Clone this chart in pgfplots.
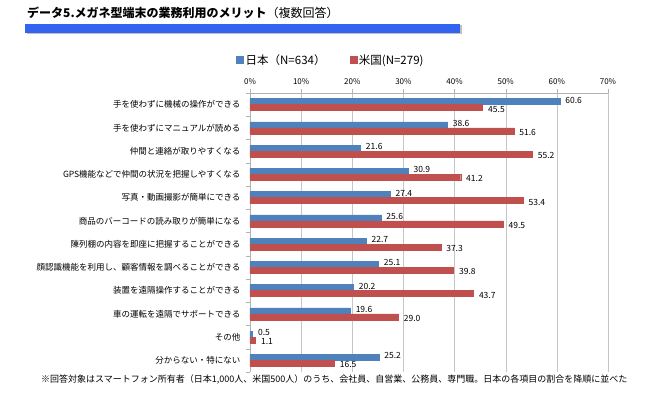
\documentclass[border=0pt]{standalone}
\usepackage{fontspec}
\setmainfont{Noto Sans CJK JP}
\usepackage{pgfplots}
\pgfplotsset{compat=1.18}
\definecolor{jp}{RGB}{79,129,189}
\definecolor{us}{RGB}{192,80,77}
\definecolor{titlebar}{RGB}{50,100,240}
\begin{document}
\begin{tikzpicture}[x=1pt,y=1pt]
\useasboundingbox (0,0) rectangle (665,397);
\coordinate (A) at (250,25);
\node[anchor=west,inner sep=0pt] at (27,384) {\fontsize{12}{14}\selectfont\bfseries データ5.メガネ型端末の業務利用のメリット\mdseries（複数回答）};
\fill[gray!50] (26.5,362.5) rectangle (461.5,371.5);
\fill[titlebar] (25,364) rectangle (460,373);
\begin{axis}[
  at={(A)}, anchor=south west,
  scale only axis, width=358pt, height=279pt,
  xbar, bar width=6pt,
  xmin=0, xmax=70, ymin=-0.5, ymax=11.5,
  y dir=reverse,
  axis x line*=top, axis y line*=left,
  axis line style={draw=gray!60},
  xtick={0,10,...,70},
  xticklabel={\pgfmathprintnumber{\tick}\%},
  xtick align=outside,
  major tick length=4pt,
  minor tick length=4pt,
  x tick style={draw=gray!60},
  xmajorgrids, grid style={draw=gray!45},
  ticklabel style={font=\fontsize{8}{10}\selectfont},
  xticklabel style={yshift=1pt},
  /pgf/number format/assume math mode=true,
  ytick={0,...,11},
  major y tick style={draw=none},
  minor ytick={-0.5,0.5,...,11.5},
  minor y tick style={draw=gray!60},
  ytick align=outside,
  yticklabels={手を使わずに機械の操作ができる,手を使わずにマニュアルが読める,仲間と連絡が取りやすくなる,GPS機能などで仲間の状況を把握しやすくなる,写真・動画撮影が簡単にできる,商品のバーコードの読み取りが簡単になる,陳列棚の内容を即座に把握することができる,顔認識機能を利用し、顧客情報を調べることができる,装置を遠隔操作することができる,車の運転を遠隔でサポートできる,その他,分からない・特にない},
  yticklabel style={font=\fontsize{8.5}{10}\selectfont, xshift=-2pt},
  nodes near coords,
  nodes near coords style={font=\fontsize{8.5}{10}\selectfont, /pgf/number format/fixed, /pgf/number format/fixed zerofill, /pgf/number format/precision=1, /pgf/number format/assume math mode=true},
  legend columns=2,
  legend style={at={(0.226,1.118)}, anchor=center, draw=none, fill=none,
    font=\fontsize{11.5}{13}\selectfont,
    /tikz/every even column/.append style={column sep=22pt}},
  legend image code/.code={\fill[#1] (2pt,-3.5pt) rectangle (9pt,3.5pt);},
]
\addplot[fill=jp, draw=jp, bar shift=3pt, nodes near coords style={anchor=west, yshift=1.5pt, xshift=2pt}] coordinates {
(60.6,0) (38.6,1) (21.6,2) (30.9,3) (27.4,4) (25.6,5) (22.7,6) (25.1,7) (20.2,8) (19.6,9) (0.5,10) (25.2,11)};
\addplot[fill=us, draw=us, bar shift=-3pt, nodes near coords style={anchor=west, yshift=-1.5pt, xshift=2pt}] coordinates {
(45.5,0) (51.6,1) (55.2,2) (41.2,3) (53.4,4) (49.5,5) (37.3,6) (39.8,7) (43.7,8) (29.0,9) (1.1,10) (16.5,11)};
\legend{日本（N=634）,米国(N=279)}
\end{axis}
\node[anchor=west,inner sep=0pt] at (41,17) {\fontsize{9}{10}\selectfont ※回答対象はスマートフォン所有者（日本1,000人、米国500人）のうち、会社員、自営業、公務員、専門職。日本の各項目の割合を降順に並べた};
\end{tikzpicture}
\end{document}
